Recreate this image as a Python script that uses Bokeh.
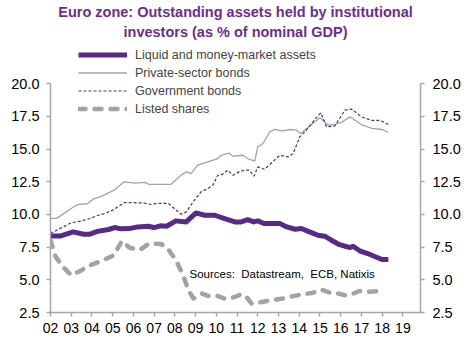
from bokeh.plotting import figure
from bokeh.models import (Range1d, LinearAxis, FixedTicker, PrintfTickFormatter,
                          Legend, LegendItem, Label)
from bokeh.embed import file_html
from bokeh.resources import INLINE

# ---------------- data ----------------
liquid_x = [2002.0, 2002.5, 2003.1, 2003.6, 2003.9, 2004.3, 2004.8, 2005.1, 2005.4, 2005.8,
            2006.2, 2006.7, 2007.0, 2007.3, 2007.6, 2008.05, 2008.55, 2009.02, 2009.44, 2009.93,
            2010.4, 2010.9, 2011.2, 2011.52, 2011.8, 2012.0, 2012.3, 2013.06, 2013.4, 2013.8,
            2014.1, 2014.5, 2014.9, 2015.23, 2015.55, 2015.9, 2016.2, 2016.45, 2016.6, 2016.95,
            2017.3, 2017.7, 2018.0, 2018.3]
liquid_y = [8.36, 8.36, 8.67, 8.49, 8.49, 8.72, 8.85, 9.0, 8.9, 8.92,
            9.05, 9.1, 9.0, 9.13, 9.1, 9.51, 9.43, 10.12, 9.94, 9.94,
            9.69, 9.43, 9.43, 9.6, 9.43, 9.51, 9.31, 9.31, 9.05, 8.87,
            8.93, 8.67, 8.41, 8.34, 8.03, 7.72, 7.57, 7.47, 7.57, 7.19,
            7.01, 6.75, 6.55, 6.55]

private_x = [2002.0, 2002.3, 2003.0, 2003.3, 2003.8, 2004.1, 2004.4, 2005.07, 2005.55, 2006.07,
             2006.55, 2006.76, 2007.8, 2008.3, 2008.55, 2008.78, 2009.1, 2009.59, 2010.07, 2010.23,
             2010.6, 2010.8, 2011.28, 2011.52, 2011.85, 2012.0, 2012.25, 2012.57, 2012.8, 2013.2,
             2013.54, 2013.87, 2014.07, 2014.6, 2015.0, 2015.4, 2015.72, 2016.04, 2016.45, 2017.0,
             2017.5, 2018.0, 2018.3]
private_y = [9.7, 9.7, 10.46, 10.76, 10.84, 11.22, 11.35, 11.86, 12.5, 12.4,
             12.45, 12.3, 12.3, 13.0, 13.26, 13.13, 13.77, 14.02, 14.28, 14.53,
             14.7, 14.46, 14.53, 14.28, 14.08, 15.17, 15.43, 16.3, 16.5, 16.4,
             16.5, 16.45, 16.2, 16.9, 17.4, 16.83, 16.9, 17.05, 17.47, 16.88,
             16.58, 16.5, 16.27]

gov_x = [2002.0, 2002.3, 2003.0, 2003.5, 2003.9, 2004.3, 2004.6, 2005.0, 2005.55, 2006.0,
         2006.5, 2006.8, 2007.3, 2007.7, 2007.97, 2008.3, 2008.55, 2008.94, 2009.26, 2009.6,
         2009.83, 2010.07, 2010.3, 2010.55, 2010.8, 2011.1, 2011.36, 2011.6, 2011.82, 2012.0,
         2012.33, 2013.06, 2013.46, 2013.7, 2014.03, 2014.27, 2014.6, 2014.88, 2015.04, 2015.32,
         2015.72, 2016.2, 2016.53, 2017.0, 2017.5, 2017.9, 2018.3]
gov_y = [8.54, 8.8, 9.36, 9.51, 9.69, 9.94, 10.07, 10.33, 10.9, 10.9,
         10.88, 10.78, 10.85, 10.84, 10.46, 10.02, 10.2, 11.09, 11.73, 11.99,
         12.24, 13.0, 13.08, 13.39, 13.0, 13.26, 13.39, 13.39, 12.93, 13.64,
         13.46, 14.53, 14.4, 14.66, 15.94, 16.32, 16.96, 17.52, 17.77, 16.7,
         16.78, 17.98, 18.06, 17.47, 17.2, 17.2, 16.88]

shares_x = [2002.0, 2002.25, 2002.6, 2003.0, 2003.5, 2003.9, 2004.55, 2005.05, 2005.45, 2005.8,
            2006.3, 2006.75, 2007.3, 2007.6, 2008.05, 2008.4, 2008.65, 2008.9, 2009.3, 2009.6,
            2010.0, 2010.4, 2010.9, 2011.2, 2011.45, 2011.7, 2012.2, 2012.7, 2013.2, 2013.7,
            2014.2, 2014.65, 2015.05, 2015.5, 2015.9, 2016.2, 2016.55, 2016.9, 2017.3, 2017.75,
            2018.1]
shares_y = [8.03, 6.75, 5.99, 5.35, 5.74, 6.12, 6.5, 6.88, 7.98, 7.47,
            7.27, 7.78, 7.75, 7.52, 6.5, 5.35, 4.2, 3.57, 3.95, 3.77,
            3.8, 3.57, 3.68, 3.9, 3.7, 3.19, 3.31, 3.44, 3.57, 3.75,
            3.9, 4.0, 4.26, 4.0, 3.95, 3.82, 3.9, 4.15, 4.08, 4.13,
            4.05]

series_names = ["Liquid and money-market assets", "Private-sector bonds",
                "Government bonds", "Listed shares"]
year_ticks = list(range(2002, 2020))
year_labels = ["%02d" % (y % 100) for y in year_ticks]
y_ticks = [2.5, 5.0, 7.5, 10.0, 12.5, 15.0, 17.5, 20.0]
title_lines = ["Euro zone: Outstanding assets held by institutional",
               "investors (as % of nominal GDP)"]
source_text = "Sources:\u00a0 Datastream,\u00a0 ECB, Natixis"

# ---------------- styling ----------------
PURPLE = "#582A87"
TITLE_PURPLE = "#6B2D90"
GREY = "#A3A3A3"
AXIS_GREY = "#A6A6A6"
FONT = "Liberation Sans"

p = figure(width=470, height=351, output_backend="svg", toolbar_location=None,
           x_range=Range1d(2002, 2019.85), y_range=Range1d(2.5, 26.37),
           min_border_left=50, min_border_right=50, min_border_top=0, min_border_bottom=39)
p.outline_line_color = None
p.xgrid.visible = False
p.ygrid.visible = False
p.background_fill_color = "white"
p.border_fill_color = "white"

r_liq = p.line(liquid_x, liquid_y, line_color=PURPLE, line_width=5, line_join="round")
r_priv = p.line(private_x, private_y, line_color=GREY, line_width=1.3, line_join="round")
r_gov = p.line(gov_x, gov_y, line_color=PURPLE, line_width=1.2, line_dash="3 2")
r_sh = p.line(shares_x, shares_y, line_color=GREY, line_width=4.5, line_dash="7 9",
              line_cap="round", line_join="round")

def style_axis(ax):
    ax.axis_line_color = AXIS_GREY
    ax.axis_line_width = 1.5
    ax.major_tick_line_color = AXIS_GREY
    ax.major_tick_line_width = 1.5
    ax.major_tick_out = 4
    ax.major_tick_in = 0
    ax.minor_tick_line_color = None
    ax.major_label_text_font = FONT
    ax.major_label_text_color = "black"

# bottom axis
xa = p.xaxis[0]
xa.ticker = FixedTicker(ticks=year_ticks)
xa.major_label_overrides = {t: l for t, l in zip(year_ticks, year_labels)}
style_axis(xa)
xa.major_label_text_font_size = "14px"
xa.major_label_standoff = 6

# left axis
ya = p.yaxis[0]
ya.ticker = FixedTicker(ticks=y_ticks)
ya.formatter = PrintfTickFormatter(format="%.1f")
ya.bounds = (2.5, 20.0)
style_axis(ya)
ya.major_label_text_font_size = "14.5px"
ya.major_label_standoff = 7

# right axis
yr = LinearAxis(ticker=FixedTicker(ticks=y_ticks), formatter=PrintfTickFormatter(format="%.1f"),
                bounds=(2.5, 20.0))
style_axis(yr)
yr.major_label_text_font_size = "14.5px"
yr.major_label_standoff = 8
p.add_layout(yr, "right")

legend = Legend(items=[LegendItem(label=series_names[0], renderers=[r_liq]),
                       LegendItem(label=series_names[1], renderers=[r_priv]),
                       LegendItem(label=series_names[2], renderers=[r_gov]),
                       LegendItem(label=series_names[3], renderers=[r_sh])],
                location=(28, 196), orientation="vertical",
                glyph_width=49, glyph_height=15, label_height=15, spacing=3,
                padding=0, margin=0, label_standoff=8,
                label_text_font=FONT, label_text_font_size="12.5px",
                border_line_color=None, background_fill_alpha=0)
p.add_layout(legend, "center")

for i, txt in enumerate(title_lines):
    p.add_layout(Label(x=185, y=300.3 - 20 * i, x_units="screen", y_units="screen", text=txt,
                       text_align="center", text_baseline="middle", text_font=FONT,
                       text_font_size="14.5px", text_font_style="bold", text_color=TITLE_PURPLE))

p.add_layout(Label(x=139, y=39, x_units="screen", y_units="screen", text=source_text,
                   text_align="left", text_baseline="middle", text_font=FONT,
                   text_font_size="11.5px", text_color="black"))

open("out.html", "w").write(file_html(p, INLINE))
